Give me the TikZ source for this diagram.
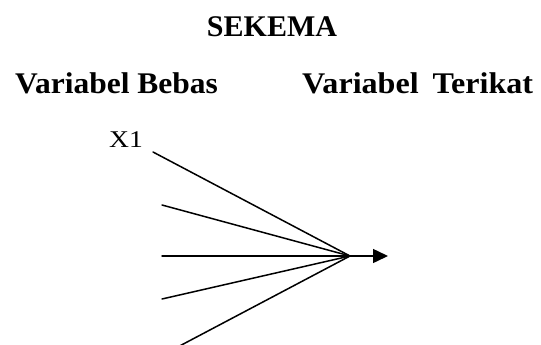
\documentclass[tikz,border=0pt]{standalone}
\usepackage{fontspec}
\setmainfont{Liberation Serif}
\usetikzlibrary{arrows.meta}
\tikzset{
  ttl/.style={font=\fontsize{30}{34}\selectfont\bfseries, inner sep=0pt},
  lbl/.style={font=\fontsize{24}{28}\selectfont, inner sep=0pt, xscale=1.15},
  ray/.style={line width=1.5pt, line cap=round},
}
\begin{document}
\begin{tikzpicture}[x=1pt,y=-1pt]
\useasboundingbox (0,0) rectangle (541,345);
\node[ttl, anchor=base] (title) at (272,37) {SEKEMA};
\node[ttl, anchor=base west, xscale=1.05] (bebas) at (15,93) {Variabel Bebas};
\node[ttl, anchor=base west, xscale=1.07] (terikat) at (302,93) {Variabel\hspace{13pt}Terikat};
\node[lbl, anchor=base west] (x1) at (109,147) {X1};
\coordinate (c) at (350,256);
\coordinate (p1) at (153,152);
\coordinate (p2) at (162,205);
\coordinate (p3) at (162,256);
\coordinate (p4) at (162,299);
\coordinate (p5) at (172,350);
\coordinate (t) at (388,256);
\draw[ray] (p1) -- (c);
\draw[ray] (p2) -- (c);
\draw[ray] (p3) -- (c);
\draw[ray] (p4) -- (c);
\draw[ray] (p5) -- (c);
\draw[ray, -{Triangle[length=15pt, width=14pt]}] (c) -- (t);
\end{tikzpicture}
\end{document}
